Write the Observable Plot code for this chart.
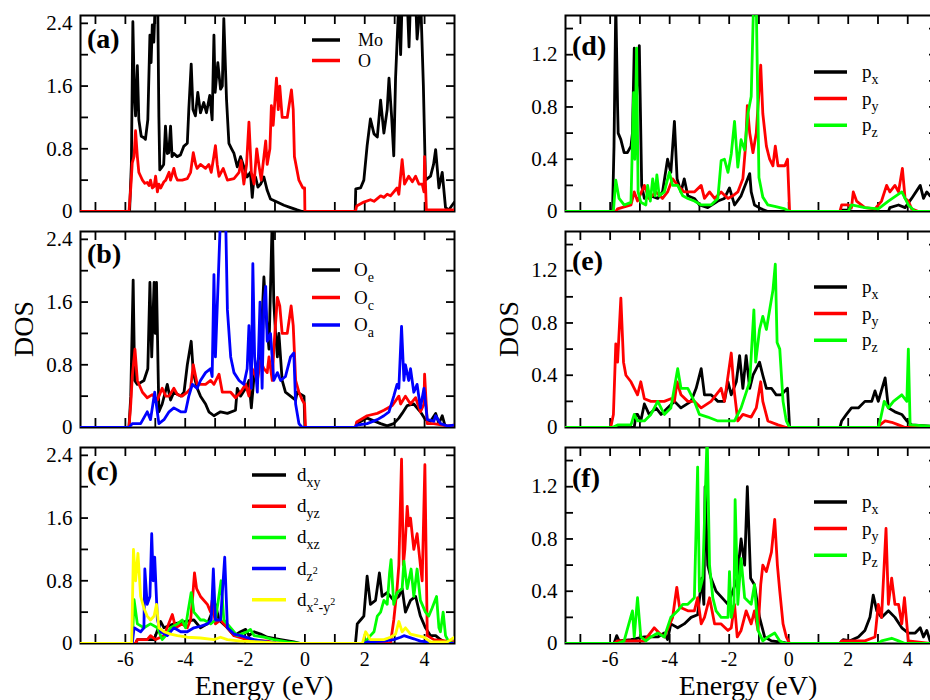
<!DOCTYPE html>
<html>
<head>
<meta charset="utf-8">
<script src="https://cdn.jsdelivr.net/npm/d3@7"></script>
<script src="https://cdn.jsdelivr.net/npm/@observablehq/plot@0.6"></script>
<style>
  html, body { margin: 0; padding: 0; background: #fff; overflow: hidden; }
  #fig { position: relative; width: 930px; height: 700px; overflow: hidden; }
  #fig svg { position: absolute; }
  #fig svg text, #fig svg tspan { font-family: "Liberation Serif", "DejaVu Serif", serif !important; }
</style>
</head>
<body>
<div id="fig"></div>
<script>
// ---- axis ticks and labels ----
const energyDomain = [-7.5, 5];
const xTickMarks = [-7, -6, -5, -4, -3, -2, -1, 0, 1, 2, 3, 4];
const xTickLabels = [-6, -4, -2, 0, 2, 4];
const yLabelsLeft = [0, 0.8, 1.6, 2.4];
const yMarksLeft = [0.4, 0.8, 1.2, 1.6, 2.0, 2.4];
const yLabelsRight = [0, 0.4, 0.8, 1.2];
const yMarksRight = [0.2, 0.4, 0.6, 0.8, 1.0, 1.2, 1.4];
const xTitle = "Energy (eV)";
const yTitle = "DOS";
const panelTags = ["(a)", "(b)", "(c)", "(d)", "(e)", "(f)"];

// ---- legend labels: [text, level] with level 0 normal, 1 subscript, 2 superscript on subscript ----
const legendA = [[["Mo", 0]], [["O", 0]]];
const legendB = [[["O", 0], ["e", 1]], [["O", 0], ["c", 1]], [["O", 0], ["a", 1]]];
const legendC = [
  [["d", 0], ["xy", 1]],
  [["d", 0], ["yz", 1]],
  [["d", 0], ["xz", 1]],
  [["d", 0], ["z", 1], ["2", 2]],
  [["d", 0], ["x", 1], ["2", 2], ["-y", 1], ["2", 2]]
];
const legendP = [[["p", 0], ["x", 1]], [["p", 0], ["y", 1]], [["p", 0], ["z", 1]]];

// ---- (a) total DOS of Mo and O: [energy (eV), DOS] ----
const moDos = [[-7.5,0],[-5.86,0],[-5.8,0.6],[-5.75,2.42],[-5.7,1.5],[-5.66,1.22],[-5.6,1.86],[-5.55,1.17],[-5.47,0.96],[-5.38,0.94],[-5.33,0.92],[-5.25,1.17],[-5.18,2.25],[-5.14,1.9],[-5.1,2.38],[-5.05,2.16],[-5.0,2.7],[-4.92,2.7],[-4.88,1.2],[-4.85,0.53],[-4.77,0.57],[-4.72,0.6],[-4.66,1.09],[-4.6,0.74],[-4.55,0.75],[-4.49,1.09],[-4.44,0.7],[-4.38,0.74],[-4.27,0.7],[-4.16,0.72],[-4.05,0.83],[-3.93,0.87],[-3.88,1.3],[-3.8,1.88],[-3.74,1.3],[-3.66,1.22],[-3.58,1.52],[-3.49,1.26],[-3.38,1.39],[-3.29,1.26],[-3.18,1.48],[-3.1,1.17],[-3.04,2.25],[-3.0,1.52],[-2.91,1.9],[-2.82,1.56],[-2.76,1.6],[-2.71,2.46],[-2.62,1.43],[-2.54,0.87],[-2.45,0.8],[-2.37,0.74],[-2.26,0.57],[-2.15,0.7],[-2.04,0.57],[-1.93,0.44],[-1.82,0.5],[-1.76,0.18],[-1.7,0.45],[-1.65,0.44],[-1.57,0.31],[-1.48,0.35],[-1.37,0.44],[-1.26,0.27],[-1.15,0.16],[-0.93,0.12],[-0.7,0.08],[-0.48,0.05],[-0.26,0.02],[-0.09,0],[1.68,0],[1.7,0.29],[1.86,0.3],[1.97,0.4],[2.08,0.84],[2.19,1.18],[2.31,0.99],[2.42,0.95],[2.53,1.42],[2.64,1.0],[2.75,1.3],[2.81,1.7],[2.9,1.2],[2.97,0.71],[3.03,1.7],[3.14,2.7],[3.2,2.0],[3.25,2.7],[3.42,2.7],[3.48,2.1],[3.53,2.7],[3.7,2.7],[3.75,2.2],[3.87,2.7],[3.96,1.6],[4.03,0.4],[4.2,0.45],[4.3,0.6],[4.37,0.79],[4.48,0.3],[4.59,0.5],[4.7,0.05],[4.81,0.02],[4.92,0.08],[5.0,0.12]];
const oDos = [[-7.5,0],[-5.88,0],[-5.82,0.3],[-5.77,0.62],[-5.71,0.7],[-5.66,1.03],[-5.6,0.7],[-5.55,0.5],[-5.49,0.45],[-5.43,0.4],[-5.35,0.36],[-5.27,0.37],[-5.21,0.33],[-5.16,0.4],[-5.1,0.3],[-5.04,0.32],[-4.99,0.45],[-4.93,0.25],[-4.88,0.35],[-4.82,0.3],[-4.71,0.38],[-4.65,0.4],[-4.54,0.5],[-4.49,0.4],[-4.38,0.55],[-4.32,0.45],[-4.26,0.4],[-4.1,0.4],[-3.93,0.42],[-3.82,0.5],[-3.73,0.75],[-3.65,0.6],[-3.6,0.55],[-3.49,0.6],[-3.32,0.55],[-3.21,0.6],[-3.13,0.5],[-3.04,0.71],[-2.99,0.84],[-2.93,0.6],[-2.87,0.45],[-2.73,0.55],[-2.59,0.4],[-2.37,0.42],[-2.2,0.5],[-2.13,0.65],[-2.04,0.35],[-1.95,0.6],[-1.87,1.14],[-1.79,0.5],[-1.7,0.35],[-1.61,0.8],[-1.54,0.6],[-1.46,0.4],[-1.37,0.7],[-1.31,0.9],[-1.26,0.6],[-1.17,0.8],[-1.12,1.35],[-1.06,1.1],[-0.95,1.7],[-0.89,1.3],[-0.84,1.6],[-0.76,1.2],[-0.59,1.2],[-0.45,1.55],[-0.39,1.3],[-0.35,0.7],[-0.2,0.4],[-0.07,0.3],[-0.01,0.3],[0.0,0],[1.69,0],[1.73,0.07],[1.97,0.12],[2.19,0.15],[2.31,0.13],[2.53,0.2],[2.64,0.18],[2.75,0.22],[2.86,0.2],[3.08,0.3],[3.14,0.22],[3.25,0.66],[3.33,0.35],[3.47,0.45],[3.59,0.38],[3.7,0.45],[3.81,0.35],[3.92,0.35],[3.98,0.25],[4.0,0.7],[4.06,0.02],[4.31,0.02],[5.0,0.02]];

// ---- (b) O sites ----
const oeDos = [[-7.5,0],[-5.88,0],[-5.82,0.4],[-5.74,1.88],[-5.69,0.6],[-5.6,0.55],[-5.55,0.56],[-5.38,0.6],[-5.25,0.75],[-5.18,1.85],[-5.12,0.9],[-5.04,1.85],[-5.0,1.2],[-4.96,1.85],[-4.9,0.6],[-4.88,0.2],[-4.77,0.3],[-4.6,0.55],[-4.49,0.35],[-4.38,0.45],[-4.15,0.4],[-4.04,0.45],[-3.93,0.8],[-3.8,1.1],[-3.73,0.7],[-3.6,0.5],[-3.49,0.4],[-3.32,0.3],[-3.21,0.2],[-3.04,0.15],[-2.82,0.2],[-2.59,0.18],[-2.32,0.22],[-2.26,0.5],[-2.15,0.4],[-1.98,0.5],[-1.87,0.6],[-1.79,0.25],[-1.7,0.65],[-1.59,0.8],[-1.48,1.0],[-1.37,1.92],[-1.31,1.5],[-1.2,1.0],[-1.09,2.7],[-1.04,1.6],[-0.98,1.2],[-0.92,0.9],[-0.87,1.2],[-0.76,0.6],[-0.65,0.45],[-0.48,0.4],[-0.31,0.35],[-0.26,0.45],[-0.03,0.4],[0.0,0],[1.69,0],[1.73,0.05],[1.97,0.1],[2.08,0.12],[2.53,0.05],[2.75,0.02],[2.97,0.05],[3.14,0.12],[3.25,0.18],[3.42,0.28],[3.64,0.3],[3.86,0.2],[4.03,0.1],[4.2,0.08],[4.37,0.18],[4.48,0.05],[4.59,0.15],[4.7,0],[5.0,0.02]];
const ocDos = [[-7.5,0],[-5.88,0],[-5.82,0.3],[-5.77,0.65],[-5.68,1.0],[-5.6,0.6],[-5.43,0.45],[-5.27,0.38],[-5.1,0.42],[-4.93,0.35],[-4.77,0.5],[-4.65,0.4],[-4.54,0.4],[-4.38,0.5],[-4.26,0.42],[-4.1,0.4],[-3.93,0.45],[-3.82,0.5],[-3.73,0.8],[-3.6,0.55],[-3.32,0.55],[-3.15,0.6],[-3.04,0.55],[-2.87,0.68],[-2.76,0.45],[-2.48,0.45],[-2.32,0.38],[-2.15,0.45],[-1.98,0.55],[-1.87,0.4],[-1.76,0.75],[-1.59,0.6],[-1.48,0.85],[-1.37,0.75],[-1.26,0.7],[-1.2,0.9],[-1.09,0.6],[-1.04,1.0],[-0.92,1.66],[-0.84,1.55],[-0.76,1.2],[-0.59,1.2],[-0.46,1.55],[-0.39,1.3],[-0.31,0.6],[-0.2,0.45],[-0.09,0.35],[-0.01,0.3],[0.02,0],[1.69,0],[1.73,0.07],[2.08,0.15],[2.42,0.18],[2.64,0.22],[2.92,0.28],[3.14,0.4],[3.2,0.3],[3.36,0.4],[3.53,0.3],[3.7,0.38],[3.86,0.2],[3.98,0.3],[4.0,0.68],[4.09,0.05],[4.31,0.05],[4.76,0.02],[5.0,0.03]];
const oaDos = [[-7.5,0],[-5.88,0],[-5.77,0.05],[-5.49,0.05],[-5.27,0.2],[-5.16,0.1],[-5.02,0.45],[-4.88,0.05],[-4.71,0.1],[-4.54,0.2],[-4.38,0.25],[-4.15,0.2],[-3.99,0.2],[-3.88,0.4],[-3.76,0.55],[-3.6,0.5],[-3.49,0.6],[-3.32,0.7],[-3.15,0.75],[-3.1,0.65],[-3.04,1.95],[-2.99,0.9],[-2.82,2.7],[-2.65,2.7],[-2.59,1.5],[-2.48,0.9],[-2.37,0.7],[-2.2,0.6],[-2.04,0.55],[-1.93,0.75],[-1.87,1.3],[-1.79,0.5],[-1.74,2.09],[-1.68,0.9],[-1.59,0.45],[-1.5,1.6],[-1.43,0.5],[-1.37,1.6],[-1.31,1.8],[-1.26,1.1],[-1.15,1.2],[-1.04,0.6],[-0.92,0.7],[-0.81,0.6],[-0.65,0.65],[-0.48,0.9],[-0.37,0.95],[-0.31,0.3],[-0.2,0.05],[-0.09,0],[1.69,0],[1.73,0.03],[2.08,0.05],[2.42,0.1],[2.64,0.15],[2.81,0.2],[2.97,0.4],[3.08,0.55],[3.14,0.5],[3.23,1.29],[3.31,0.6],[3.36,0.8],[3.47,0.6],[3.53,0.75],[3.64,0.45],[3.75,0.55],[3.86,0.25],[3.98,0.5],[4.09,0.1],[4.31,0.08],[4.37,0.15],[4.53,0.05],[4.76,0.02],[5.0,0.03]];

// ---- (c) Mo d orbitals ----
const dxyDos = [[-7.5,0],[-5.66,0],[-5.6,0.05],[-5.04,0.05],[-4.82,0.28],[-4.71,0.2],[-4.38,0.25],[-3.71,0.3],[-3.49,0.2],[-3.26,0.25],[-2.99,0.5],[-2.87,0.3],[-2.59,0.2],[-2.37,0.1],[-2.15,0.15],[-1.98,0.18],[-1.87,0.1],[-1.7,0.15],[-1.48,0.12],[-1.26,0.08],[-0.81,0.05],[-0.37,0.02],[-0.14,0],[1.69,0],[1.75,0.25],[1.86,0.3],[1.97,0.35],[2.08,0.86],[2.19,0.5],[2.36,0.55],[2.49,0.9],[2.58,0.6],[2.75,0.65],[2.97,0.55],[3.14,0.6],[3.25,0.7],[3.36,0.4],[3.53,0.55],[3.7,0.6],[3.86,0.35],[4.03,0.2],[4.2,0.1],[4.37,0.1],[4.53,0.05],[4.76,0],[5.0,0]];
const dyzDos = [[-7.5,0],[-5.66,0],[-5.6,0.05],[-5.27,0.05],[-5.16,0.1],[-4.99,0.05],[-4.71,0.1],[-4.43,0.37],[-4.32,0.2],[-4.1,0.25],[-3.93,0.2],[-3.82,0.3],[-3.76,0.55],[-3.69,0.9],[-3.62,0.7],[-3.49,0.6],[-3.26,0.5],[-3.15,0.4],[-3.1,0.55],[-2.99,0.25],[-2.82,0.3],[-2.59,0.2],[-2.37,0.1],[-1.93,0.05],[-1.26,0.03],[-0.92,0],[2.86,0],[2.97,0.3],[3.08,0.7],[3.14,1.0],[3.23,2.35],[3.29,1.0],[3.34,1.2],[3.42,1.75],[3.47,1.5],[3.53,1.6],[3.64,1.2],[3.75,1.4],[3.86,1.0],[3.92,0.8],[4.01,2.28],[4.09,0.1],[4.31,0.05],[5.0,0.02]];
const dxzDos = [[-7.5,0],[-5.77,0],[-5.71,0.56],[-5.6,0.25],[-5.38,0.2],[-5.16,0.25],[-4.93,0.2],[-4.77,0.05],[-4.65,0.1],[-4.49,0.2],[-4.26,0.25],[-4.1,0.3],[-3.99,0.2],[-3.91,0.4],[-3.8,0.65],[-3.71,0.4],[-3.49,0.3],[-3.37,0.3],[-3.15,0.25],[-2.99,0.3],[-2.8,0.8],[-2.71,0.3],[-2.48,0.2],[-2.26,0.1],[-1.93,0.15],[-1.82,0.18],[-1.7,0.1],[-1.37,0.08],[-1.04,0.05],[-0.59,0.02],[-0.14,0],[1.97,0],[2.08,0.05],[2.19,0.1],[2.31,0.15],[2.42,0.35],[2.53,0.4],[2.64,0.55],[2.75,0.5],[2.83,0.9],[2.88,1.07],[2.97,0.5],[3.08,0.65],[3.25,0.7],[3.31,1.05],[3.42,0.7],[3.55,0.95],[3.64,0.6],[3.75,0.95],[3.86,0.55],[4.03,0.4],[4.14,0.35],[4.25,0.45],[4.4,0.6],[4.48,0.2],[4.53,0.15],[4.62,0.4],[4.7,0.1],[4.81,0.02],[5.0,0]];
const dz2Dos = [[-7.5,0],[-5.77,0],[-5.71,0.2],[-5.49,0.15],[-5.38,0.2],[-5.35,0.95],[-5.27,0.5],[-5.18,0.6],[-5.12,1.4],[-5.07,0.8],[-5.02,1.1],[-4.93,0.3],[-4.82,0.15],[-4.6,0.1],[-4.38,0.2],[-4.15,0.15],[-3.93,0.15],[-3.71,0.2],[-3.49,0.22],[-3.26,0.25],[-3.13,0.3],[-3.06,0.95],[-2.99,0.3],[-2.82,0.3],[-2.68,1.1],[-2.59,0.2],[-2.37,0.12],[-2.15,0.1],[-1.7,0.05],[-1.26,0.02],[-0.81,0],[1.97,0],[2.08,0.02],[2.64,0.03],[2.97,0.05],[3.2,0.08],[3.31,0.1],[3.64,0.06],[3.86,0.03],[4.09,0.02],[4.31,0],[5.0,0]];
const dx2y2Dos = [[-7.5,0],[-5.79,0],[-5.73,1.2],[-5.66,0.8],[-5.58,1.15],[-5.49,0.6],[-5.38,0.45],[-5.27,0.35],[-5.16,0.3],[-5.04,0.35],[-4.96,0.5],[-4.88,0.2],[-4.71,0.15],[-4.49,0.12],[-4.26,0.1],[-3.93,0.08],[-3.49,0.07],[-3.04,0.05],[-2.82,0.08],[-2.59,0.05],[-2.15,0.03],[-1.48,0.02],[-0.7,0],[1.92,0],[2.03,0.15],[2.19,0.05],[2.64,0.05],[2.86,0.08],[3.03,0.12],[3.14,0.28],[3.25,0.15],[3.36,0.2],[3.53,0.12],[3.75,0.1],[3.98,0.08],[4.2,0.02],[4.76,0.02],[5.0,0.08]];

// ---- (d) O_e p orbitals ----
const pxD = [[-7.5,0],[-5.92,0],[-5.87,0.5],[-5.81,1.6],[-5.75,0.8],[-5.73,0.6],[-5.64,0.55],[-5.53,0.45],[-5.42,0.45],[-5.3,0.5],[-5.25,0.6],[-5.19,1.25],[-5.13,0.8],[-5.02,1.27],[-4.94,0.2],[-4.85,0.1],[-4.63,0.12],[-4.4,0.1],[-4.24,0.15],[-4.07,0.4],[-3.96,0.3],[-3.84,0.69],[-3.75,0.25],[-3.62,0.15],[-3.51,0.25],[-3.39,0.12],[-3.17,0.1],[-3.0,0.05],[-2.72,0.03],[-2.38,0.08],[-2.16,0.1],[-1.99,0.18],[-1.82,0.05],[-1.6,0.12],[-1.31,0.29],[-1.26,0.15],[-1.15,0.05],[-0.92,0.02],[-0.7,0],[1.72,0],[1.78,0.01],[2.0,0.01],[2.17,0],[3.35,0],[3.4,0.03],[3.69,0.05],[3.91,0.03],[4.13,0.1],[4.42,0.2],[4.53,0.1],[4.64,0.15],[4.75,0.12]];
const pyD = [[-7.5,0],[-5.81,0],[-5.75,0.02],[-5.3,0.05],[-5.19,0.15],[-5.08,0.08],[-4.85,0.2],[-4.69,0.1],[-4.46,0.15],[-4.24,0.1],[-4.07,0.15],[-3.9,0.25],[-3.73,0.2],[-3.51,0.15],[-3.17,0.15],[-2.94,0.2],[-2.83,0.1],[-2.66,0.15],[-2.49,0.1],[-2.27,0.15],[-2.04,0.1],[-1.88,0.12],[-1.71,0.15],[-1.54,0.25],[-1.45,0.5],[-1.39,0.81],[-1.31,0.6],[-1.2,0.45],[-1.09,0.6],[-0.94,1.12],[-0.87,0.75],[-0.75,0.5],[-0.64,0.4],[-0.53,0.35],[-0.45,0.5],[-0.36,0.35],[-0.13,0.35],[-0.04,0.4],[0.03,0],[1.72,0],[1.78,0.05],[2.0,0.05],[2.11,0.03],[2.17,0.15],[2.28,0.08],[2.56,0.03],[2.9,0.02],[3.12,0.08],[3.29,0.2],[3.4,0.15],[3.57,0.2],[3.69,0.15],[3.82,0.33],[3.91,0.1],[4.02,0.08],[4.13,0.02],[4.36,0],[4.75,0]];
const pzD = [[-7.5,0],[-5.89,0],[-5.81,0.24],[-5.7,0.1],[-5.53,0.05],[-5.3,0.07],[-5.21,0.91],[-5.17,0.4],[-5.11,1.25],[-5.06,0.15],[-4.97,0.07],[-4.8,0.05],[-4.74,0.2],[-4.65,0.08],[-4.57,0.25],[-4.49,0.12],[-4.43,0.28],[-4.35,0.12],[-4.18,0.15],[-4.01,0.3],[-3.9,0.2],[-3.73,0.2],[-3.56,0.12],[-3.39,0.1],[-3.17,0.08],[-2.94,0.05],[-2.61,0.05],[-2.38,0.1],[-2.27,0.39],[-2.16,0.4],[-2.04,0.3],[-1.93,0.44],[-1.82,0.69],[-1.71,0.34],[-1.6,0.55],[-1.48,0.47],[-1.37,0.75],[-1.26,0.88],[-1.18,1.6],[-1.09,1.6],[-1.0,0.26],[-0.87,0.11],[-0.7,0.05],[-0.47,0.04],[-0.13,0.02],[0.03,0],[2.0,0],[2.11,0.05],[2.56,0.03],[3.01,0.02],[3.35,0.08],[3.8,0.15],[4.02,0.05],[4.25,0],[4.75,0]];

// ---- (e) O_c p orbitals ----
const pxE = [[-7.5,0],[-5.19,0],[-5.13,0.1],[-5.08,0.1],[-4.97,0.05],[-4.85,0.18],[-4.69,0.1],[-4.46,0.15],[-4.29,0.1],[-4.07,0.15],[-3.84,0.2],[-3.62,0.15],[-3.28,0.2],[-3.11,0.3],[-2.94,0.45],[-2.83,0.25],[-2.61,0.25],[-2.38,0.2],[-2.16,0.2],[-2.04,0.35],[-1.93,0.25],[-1.76,0.35],[-1.65,0.55],[-1.54,0.3],[-1.43,0.55],[-1.31,0.3],[-1.2,0.4],[-0.98,0.5],[-0.87,0.4],[-0.75,0.3],[-0.58,0.3],[-0.42,0.25],[-0.25,0.25],[-0.04,0.3],[0.03,0],[1.72,0],[1.78,0.05],[1.94,0.1],[2.11,0.15],[2.34,0.15],[2.56,0.2],[2.79,0.2],[2.9,0.28],[3.01,0.2],[3.24,0.38],[3.35,0.15],[3.57,0.12],[3.8,0.1],[3.97,0.05],[4.13,0.02],[4.75,0.01]];
const pyE = [[-7.5,0],[-5.98,0],[-5.89,0.1],[-5.81,0.64],[-5.75,0.5],[-5.64,0.99],[-5.55,0.5],[-5.47,0.4],[-5.3,0.35],[-5.19,0.3],[-5.08,0.25],[-4.97,0.35],[-4.85,0.22],[-4.63,0.2],[-4.18,0.2],[-3.96,0.22],[-3.84,0.2],[-3.75,0.35],[-3.62,0.25],[-3.39,0.2],[-3.17,0.2],[-2.94,0.15],[-2.61,0.2],[-2.27,0.3],[-2.16,0.2],[-1.93,0.57],[-1.84,0.3],[-1.71,0.05],[-1.54,0.1],[-1.26,0.08],[-1.09,0.15],[-0.94,0.35],[-0.87,0.2],[-0.7,0.05],[-0.36,0.02],[-0.08,0],[3.0,0],[3.07,0.02],[3.24,0.05],[3.46,0.04],[3.69,0.02],[3.91,0],[4.75,0]];
const pzE = [[-7.5,0],[-5.92,0],[-5.75,0.02],[-5.3,0.02],[-5.19,0.1],[-5.08,0.05],[-4.85,0.05],[-4.63,0.1],[-4.4,0.2],[-4.18,0.1],[-3.96,0.15],[-3.73,0.45],[-3.62,0.3],[-3.39,0.3],[-3.17,0.2],[-3.0,0.1],[-2.72,0.08],[-2.38,0.05],[-1.93,0.05],[-1.82,0.05],[-1.6,0.15],[-1.31,0.35],[-1.17,0.9],[-1.11,0.5],[-0.98,0.75],[-0.87,0.85],[-0.75,0.75],[-0.53,1.05],[-0.45,1.25],[-0.39,0.65],[-0.3,0.6],[-0.19,0.2],[-0.08,0.05],[0.03,0],[3.01,0],[3.07,0.05],[3.21,0.2],[3.35,0.15],[3.52,0.2],[3.8,0.25],[3.97,0.2],[4.02,0.6],[4.08,0.02],[4.75,0.01]];

// ---- (f) O_a p orbitals ----
const pxF = [[-7.5,0],[-5.87,0],[-5.78,0.06],[-5.7,0.02],[-5.3,0.03],[-4.85,0.05],[-4.4,0.05],[-4.18,0.08],[-4.07,0.03],[-3.96,0.15],[-3.73,0.12],[-3.51,0.15],[-3.28,0.2],[-3.06,0.22],[-2.92,0.5],[-2.85,0.3],[-2.81,1.2],[-2.72,0.6],[-2.61,0.5],[-2.44,0.4],[-2.16,0.33],[-2.04,0.3],[-1.88,0.4],[-1.73,0.5],[-1.6,0.8],[-1.48,0.6],[-1.39,1.2],[-1.28,0.5],[-1.15,0.45],[-0.98,0.2],[-0.81,0.05],[-0.58,0.02],[-0.25,0.01],[-0.02,0],[1.72,0],[1.83,0.03],[2.06,0.02],[2.34,0.05],[2.56,0.1],[2.73,0.2],[2.84,0.37],[2.96,0.25],[3.12,0.2],[3.35,0.25],[3.57,0.2],[3.8,0.12],[4.02,0.08],[4.25,0.08],[4.42,0.12],[4.53,0.05],[4.64,0.1],[4.75,0.02]];
const pyF = [[-7.5,0],[-5.87,0],[-5.75,0.02],[-4.85,0.02],[-4.52,0.12],[-4.35,0.08],[-4.18,0.05],[-3.9,0.2],[-3.84,0.3],[-3.76,0.43],[-3.67,0.28],[-3.39,0.25],[-3.17,0.25],[-3.06,0.35],[-2.94,0.15],[-2.83,0.2],[-2.66,0.35],[-2.49,0.15],[-2.27,0.15],[-2.04,0.1],[-1.93,0.12],[-1.82,0.3],[-1.73,0.05],[-1.6,0.1],[-1.43,0.25],[-1.26,0.15],[-1.15,0.25],[-1.03,0.1],[-0.94,0.45],[-0.87,0.6],[-0.75,0.55],[-0.58,0.7],[-0.47,0.95],[-0.38,0.6],[-0.3,0.4],[-0.19,0.15],[-0.08,0.05],[0.03,0],[1.72,0],[1.78,0.02],[2.56,0.02],[2.9,0.05],[3.01,0.3],[3.12,0.2],[3.27,0.88],[3.35,0.3],[3.46,0.5],[3.57,0.3],[3.69,0.3],[3.8,0.15],[3.89,0.35],[4.02,0.02],[4.75,0]];
const pzF = [[-7.5,0],[-5.75,0],[-5.53,0.02],[-5.25,0.25],[-5.19,0.05],[-5.08,0.35],[-4.97,0.05],[-4.8,0.02],[-4.63,0.05],[-4.4,0.08],[-4.18,0.05],[-3.96,0.2],[-3.73,0.25],[-3.56,0.3],[-3.39,0.3],[-3.17,0.35],[-3.06,1.35],[-3.0,0.4],[-2.89,0.5],[-2.74,1.6],[-2.66,0.6],[-2.55,0.35],[-2.44,0.25],[-2.27,0.2],[-2.04,0.2],[-1.99,0.55],[-1.93,0.2],[-1.84,0.3],[-1.8,1.1],[-1.71,0.3],[-1.6,0.65],[-1.48,0.35],[-1.26,0.3],[-1.15,0.45],[-1.03,0.1],[-0.87,0.02],[-0.7,0.05],[-0.47,0.08],[-0.3,0.02],[-0.13,0],[3.01,0],[3.12,0.02],[3.46,0.04],[3.69,0.02],[3.91,0],[4.75,0]];

// ---- drawing ----
const FONT = '"Liberation Serif", "DejaVu Serif", serif';
const BLACK = "#000000", RED = "#ff0000", GREEN = "#00ff00", BLUE = "#0000ff", YELLOW = "#ffff00";
const fig = document.getElementById("fig");

function drawPanel(cfg) {
  const width = 470, marginLeft = 80, marginTop = 15;
  const marginRight = cfg.marginRight;
  const marginBottom = cfg.marginBottom;
  const height = marginTop + 196 + marginBottom;
  const innerW = width - marginLeft - marginRight;
  const innerH = height - marginTop - marginBottom;
  const fmt = d => (d === 0 ? "0" : d.toFixed(1));

  const marks = [
    Plot.frame({stroke: BLACK, strokeWidth: 2}),
    Plot.tickX(xTickMarks, {x: d => d, insetTop: innerH - 9, stroke: BLACK, strokeWidth: 1.8}),
    Plot.tickX(xTickMarks, {x: d => d, insetBottom: innerH - 9, stroke: BLACK, strokeWidth: 1.8}),
    Plot.tickY(cfg.yMarks, {y: d => d, insetRight: innerW - 8, stroke: BLACK, strokeWidth: 1.8}),
    Plot.tickY(cfg.yMarks, {y: d => d, insetLeft: innerW - 8, stroke: BLACK, strokeWidth: 1.8}),
    ...cfg.series.map(s => Plot.line(s.values, {
      x: d => d[0], y: d => d[1], stroke: s.color, strokeWidth: 2.8, clip: true
    })),
    Plot.axisY(cfg.yLabels, {anchor: "left", tickSize: 0, tickPadding: 8, fontSize: 21, tickFormat: fmt})
  ];
  if (cfg.showX) {
    marks.push(Plot.axisX(xTickLabels, {anchor: "bottom", tickSize: 0, tickPadding: 8, fontSize: 20, tickFormat: d => String(d)}));
  }

  const svg = Plot.plot({
    width, height, marginTop, marginBottom, marginLeft, marginRight,
    x: {domain: energyDomain, axis: null},
    y: {domain: [0, cfg.yMax], axis: null},
    style: {fontFamily: FONT, background: "transparent", overflow: "visible"},
    marks
  });
  svg.style.left = cfg.left + "px";
  svg.style.top = cfg.top + "px";

  const g = d3.select(svg).append("g")
    .attr("font-family", FONT)
    .attr("fill", BLACK)
    .attr("text-anchor", "start");

  // panel tag
  g.append("text")
    .attr("x", marginLeft + 7)
    .attr("y", marginTop + cfg.tagY)
    .attr("font-size", 28)
    .attr("font-weight", "bold")
    .text(cfg.tag);

  // legend
  const L = cfg.legend;
  cfg.series.forEach((s, i) => {
    const y = marginTop + L.y0 + i * L.dy;
    g.append("line")
      .attr("x1", L.x1).attr("x2", L.x2).attr("y1", y).attr("y2", y)
      .attr("stroke", s.color).attr("stroke-width", 3.5);
    const t = g.append("text").attr("x", L.tx).attr("y", y + 6).attr("font-size", L.size);
    let level = 0;
    const offset = {0: 0, 1: 6, 2: -1};
    const sizes = {0: L.size, 1: Math.round(L.size * 0.72), 2: Math.round(L.size * 0.55)};
    s.label.forEach(([txt, lv]) => {
      t.append("tspan")
        .attr("dy", offset[lv] - offset[level])
        .attr("font-size", sizes[lv])
        .text(txt);
      level = lv;
    });
  });

  if (cfg.yTitle) {
    g.append("text")
      .attr("transform", `translate(33,${marginTop + innerH / 2}) rotate(-90)`)
      .attr("text-anchor", "middle")
      .attr("font-size", 28)
      .text(yTitle);
  }
  if (cfg.showX) {
    g.append("text")
      .attr("x", marginLeft + innerW / 2 - 3)
      .attr("y", marginTop + innerH + 52)
      .attr("text-anchor", "middle")
      .attr("font-size", 28)
      .text(xTitle);
  }
  fig.appendChild(svg);
}

const legendAt = (y0, dy, size, x1, x2, tx) => ({y0, dy, size, x1, x2, tx});

const panels = [
  {tag: panelTags[0], left: 0, top: 0, marginRight: 16, marginBottom: 5, yMax: 2.5,
   yLabels: yLabelsLeft, yMarks: yMarksLeft, tagY: 33,
   legend: legendAt(25, 20.5, 18, 312, 340, 358),
   series: [{values: moDos, color: BLACK, label: legendA[0]}, {values: oDos, color: RED, label: legendA[1]}]},
  {tag: panelTags[1], left: 0, top: 216, marginRight: 16, marginBottom: 5, yMax: 2.5,
   yLabels: yLabelsLeft, yMarks: yMarksLeft, tagY: 32, yTitle: true,
   legend: legendAt(39, 27.5, 19, 312, 340, 354),
   series: [{values: oeDos, color: BLACK, label: legendB[0]}, {values: ocDos, color: RED, label: legendB[1]}, {values: oaDos, color: BLUE, label: legendB[2]}]},
  {tag: panelTags[2], left: 0, top: 432, marginRight: 16, marginBottom: 57, yMax: 2.5,
   yLabels: yLabelsLeft, yMarks: yMarksLeft, tagY: 33, showX: true,
   legend: legendAt(28, 31.2, 19, 252, 286, 297),
   series: [{values: dxyDos, color: BLACK, label: legendC[0]}, {values: dyzDos, color: RED, label: legendC[1]}, {values: dxzDos, color: GREEN, label: legendC[2]}, {values: dz2Dos, color: BLUE, label: legendC[3]}, {values: dx2y2Dos, color: YELLOW, label: legendC[4]}]},
  {tag: panelTags[3], left: 485, top: 0, marginRight: 18, marginBottom: 5, yMax: 1.5,
   yLabels: yLabelsRight, yMarks: yMarksRight, tagY: 40,
   legend: legendAt(57, 26.6, 19, 329, 362, 377),
   series: [{values: pxD, color: BLACK, label: legendP[0]}, {values: pyD, color: RED, label: legendP[1]}, {values: pzD, color: GREEN, label: legendP[2]}]},
  {tag: panelTags[4], left: 485, top: 216, marginRight: 18, marginBottom: 5, yMax: 1.5,
   yLabels: yLabelsRight, yMarks: yMarksRight, tagY: 39, yTitle: true,
   legend: legendAt(56, 26.6, 19, 329, 362, 377),
   series: [{values: pxE, color: BLACK, label: legendP[0]}, {values: pyE, color: RED, label: legendP[1]}, {values: pzE, color: GREEN, label: legendP[2]}]},
  {tag: panelTags[5], left: 485, top: 432, marginRight: 18, marginBottom: 57, yMax: 1.5,
   yLabels: yLabelsRight, yMarks: yMarksRight, tagY: 40, showX: true,
   legend: legendAt(55, 26.6, 19, 329, 362, 377),
   series: [{values: pxF, color: BLACK, label: legendP[0]}, {values: pyF, color: RED, label: legendP[1]}, {values: pzF, color: GREEN, label: legendP[2]}]}
];

panels.forEach(drawPanel);
</script>
</body>
</html>
